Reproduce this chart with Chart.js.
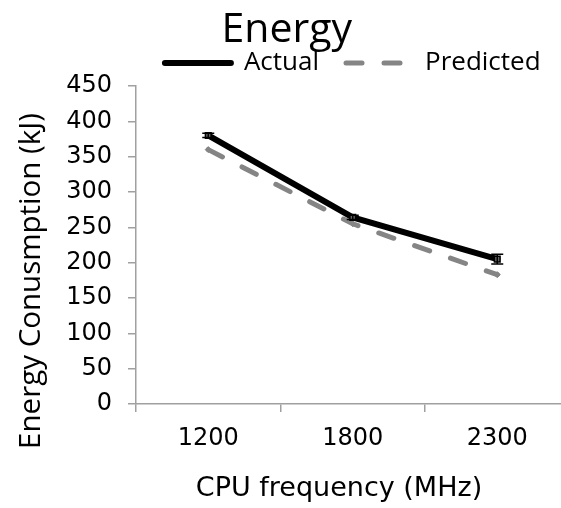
<!DOCTYPE html>
<html>
<head>
<meta charset="utf-8">
<title>Energy</title>
<script src="https://cdn.jsdelivr.net/npm/chart.js@4/dist/chart.umd.min.js"></script>
<style>
    html, body { margin: 0; padding: 0; background: #fff; overflow: hidden; }
    #wrap { width: 561px; height: 508px; overflow: hidden; }
</style>
</head>
<body>
<div id="wrap"><canvas id="chart" width="575" height="508"></canvas></div>
<script>
// Chart data
const frequencies = ['1200', '1800', '2300'];
const actualEnergy = [380, 264, 205];
const actualError = [3, 3, 7];
const predictedEnergy = [360, 255, 183];
const seriesLabels = ['Actual', 'Predicted'];
const yMin = 0;
const yMax = 450;
const yStep = 50;

const CHART_TITLE = 'Energy';
const X_TITLE = 'CPU frequency (MHz)';
const Y_TITLE = 'Energy Conusmption (kJ)';

const AXIS_GREY = '#a0a0a0';

// Error bars for the measured series, drawn through the y scale
const errorBars = {
    id: 'errorBars',
    afterDatasetsDraw(chart) {
        const meta = chart.getDatasetMeta(0);
        const yScale = chart.scales.y;
        const ctx = chart.ctx;
        ctx.save();
        ctx.strokeStyle = '#000';
        ctx.lineWidth = 1.5;
        meta.data.forEach((pt, i) => {
            const top = yScale.getPixelForValue(actualEnergy[i] + actualError[i]);
            const bottom = yScale.getPixelForValue(actualEnergy[i] - actualError[i]);
            ctx.beginPath();
            ctx.moveTo(pt.x, top); ctx.lineTo(pt.x, bottom);
            ctx.moveTo(pt.x - 6, top); ctx.lineTo(pt.x + 6, top);
            ctx.moveTo(pt.x - 6, bottom); ctx.lineTo(pt.x + 6, bottom);
            ctx.stroke();
        });
        ctx.restore();
    }
};

// Axis titles sit off-centre in the original, so place them by hand
const axisTitles = {
    id: 'axisTitles',
    afterDraw(chart, args, opts) {
        const ctx = chart.ctx;
        ctx.save();
        ctx.fillStyle = '#000';
        ctx.textAlign = 'center';
        ctx.textBaseline = 'middle';
        ctx.font = '27px "DejaVu Sans"';
        ctx.fillText(X_TITLE, opts.x.cx, opts.x.cy);
        ctx.translate(opts.y.cx, opts.y.cy);
        ctx.rotate(-Math.PI / 2);
        ctx.font = '29.5px "Open Sans"';
        ctx.fillText(Y_TITLE, 0, 0);
        ctx.restore();
    }
};

const ctx = document.getElementById('chart').getContext('2d');

new Chart(ctx, {
    type: 'line',
    data: {
        labels: frequencies,
        datasets: [
            {
                label: seriesLabels[0],
                data: actualEnergy,
                borderColor: '#000',
                backgroundColor: '#000',
                borderWidth: 6,
                borderCapStyle: 'round',
                tension: 0,
                pointStyle: 'rect',
                pointRadius: 4,
                pointBorderWidth: 1.5,
                pointBorderColor: '#000',
                pointBackgroundColor: '#666'
            },
            {
                label: seriesLabels[1],
                data: predictedEnergy,
                borderColor: '#858585',
                backgroundColor: '#858585',
                borderWidth: 5,
                borderDash: [16, 22],
                borderCapStyle: 'round',
                tension: 0,
                pointStyle: 'rectRot',
                pointRadius: 3,
                pointBorderWidth: 1,
                pointBorderColor: '#858585',
                pointBackgroundColor: '#858585'
            }
        ]
    },
    options: {
        responsive: false,
        animation: false,
        layout: { padding: { right: 1.5 } },
        plugins: {
            title: {
                display: true,
                text: CHART_TITLE,
                color: '#000',
                font: { family: '"Open Sans"', size: 41, weight: 'normal', lineHeight: 1 },
                padding: { top: 10, bottom: -28 }
            },
            legend: {
                display: true,
                position: 'top',
                fullSize: false,
                labels: {
                    color: '#000',
                    font: { family: '"Open Sans"', size: 26 },
                    usePointStyle: true,
                    pointStyleWidth: 66,
                    padding: 27,
                    generateLabels: chart => chart.data.datasets.map((ds, i) => ({
                        text: ds.label,
                        fillStyle: ds.borderColor,
                        strokeStyle: ds.borderColor,
                        lineWidth: ds.borderWidth,
                        lineDash: ds.borderDash || [],
                        lineCap: ds.borderCapStyle,
                        pointStyle: 'line',
                        fontColor: '#000',
                        hidden: false,
                        datasetIndex: i
                    }))
                }
            },
            tooltip: { enabled: false },
            axisTitles: {
                x: { cx: 339, cy: 489 },
                y: { cx: 32, cy: 281 }
            }
        },
        scales: {
            x: {
                type: 'category',
                offset: true,
                afterFit: scale => { scale.height = 104; },
                grid: {
                    offset: true,
                    drawOnChartArea: false,
                    drawTicks: true,
                    tickLength: 8,
                    color: AXIS_GREY,
                    lineWidth: 1.5
                },
                border: { color: AXIS_GREY, width: 1.5 },
                ticks: {
                    color: '#000',
                    padding: 12,
                    font: { family: '"DejaVu Sans"', size: 24 }
                }
            },
            y: {
                min: yMin,
                max: yMax,
                afterFit: scale => { scale.width = 136; },
                grid: {
                    drawOnChartArea: false,
                    drawTicks: true,
                    tickLength: 8,
                    color: AXIS_GREY,
                    lineWidth: 1.5
                },
                border: { color: AXIS_GREY, width: 1.5 },
                ticks: {
                    stepSize: yStep,
                    color: '#000',
                    padding: 16,
                    font: { family: '"DejaVu Sans"', size: 24 }
                }
            }
        }
    },
    plugins: [errorBars, axisTitles]
});
</script>
</body>
</html>
